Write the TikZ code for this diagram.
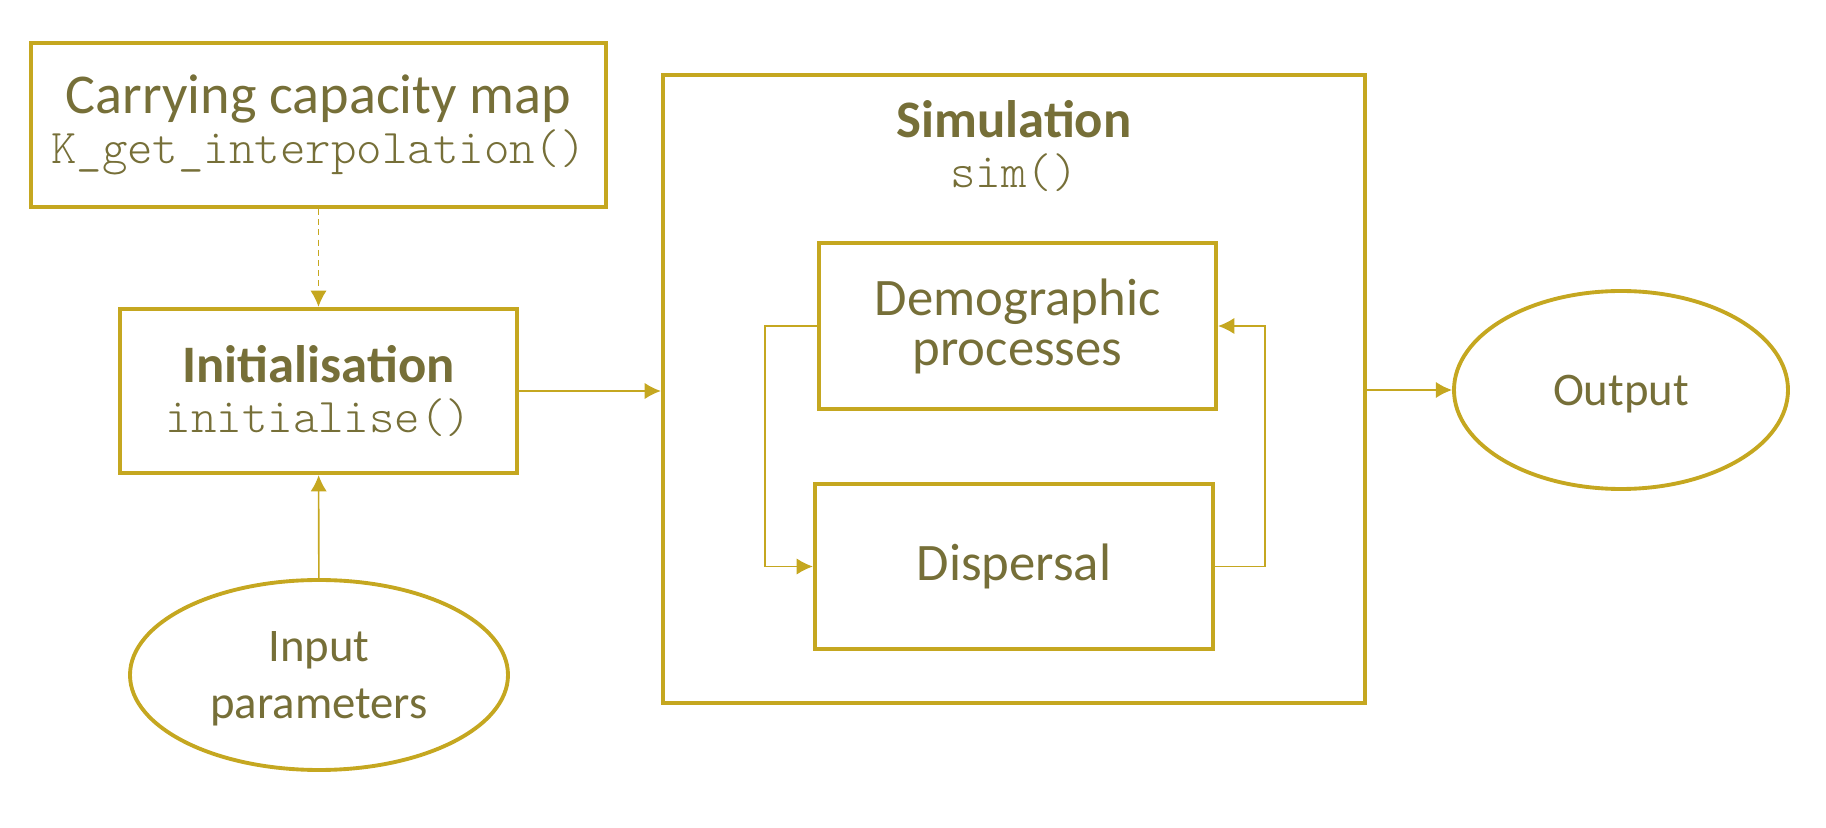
\documentclass[tikz,border=0pt]{standalone}
\usepackage{fontspec}
\setmainfont{Carlito}
\setmonofont{Latin Modern Mono Light}
\usetikzlibrary{shapes.geometric,arrows.meta}

\definecolor{gold}{RGB}{197,167,32}
\definecolor{olive}{RGB}{118,111,56}

\newcommand{\code}[1]{{\fontsize{13.8}{14.2}\selectfont\ttfamily #1}}

\tikzstyle{bx}=[rectangle,draw=gold,line width=1.2pt,text=olive,inner sep=0pt,align=center,font=\fontsize{15}{14.2}\selectfont]
\tikzstyle{el}=[ellipse,draw=gold,line width=1.1pt,text=olive,inner sep=0pt,text depth=0pt,align=center,font=\fontsize{13.3}{16}\selectfont]
\tikzstyle{lb}=[rectangle,text=olive,inner sep=0pt,align=center,font=\fontsize{15}{14.2}\selectfont]
\tikzstyle{ar}=[->,>={Latex[length=4.6pt,width=4.6pt]},draw=gold,line width=0.45pt]

\begin{document}
\begin{tikzpicture}
\useasboundingbox (0,0) rectangle (18.26,8.28);

%Left column: map, initialisation, parameters
\node [bx,minimum width=5.75cm,minimum height=1.64cm] at (3.185,7.03) (cap) {{\fontsize{16}{14.2}\selectfont Carrying capacity map}\\\code{K\_get\_interpolation()}};
\node [bx,minimum width=3.97cm,minimum height=1.64cm] at (3.185,4.37) (ini) {\textbf{Initialisation}\\\code{initialise()}};
\node [el,minimum width=3.78cm,minimum height=1.90cm] at (3.19,1.53) (par) {Input\\parameters};

%Simulation block
\node [bx,minimum width=7.02cm,minimum height=6.28cm] at (10.14,4.39) (sim) {};
\node [lb] at (10.14,6.82) (simlab) {\textbf{Simulation}\\\code{sim()}};
\node [bx,minimum width=3.97cm,minimum height=1.66cm] at (10.175,5.02) (dem) {Demographic\\processes};
\node [bx,minimum width=3.98cm,minimum height=1.65cm] at (10.14,2.615) (dis) {Dispersal};

%Result
\node [el,minimum width=3.34cm,minimum height=1.98cm] at (16.21,4.38) (out) {Output};

\draw [ar,dash pattern=on 1.7pt off 1.2pt] (cap) -- (ini);
\draw [ar] (par) -- (ini);
\draw [ar] (ini.east) -- (ini.east -| sim.west);
\draw [ar] (sim.east |- out.west) -- (out.west);

%Loop between the two processes
\draw [ar] (dem.west) -- ++(-0.52,0) |- (dis.west);
\draw [ar] (dis.east) -- ++(0.50,0) |- (dem.east);

\end{tikzpicture}
\end{document}
